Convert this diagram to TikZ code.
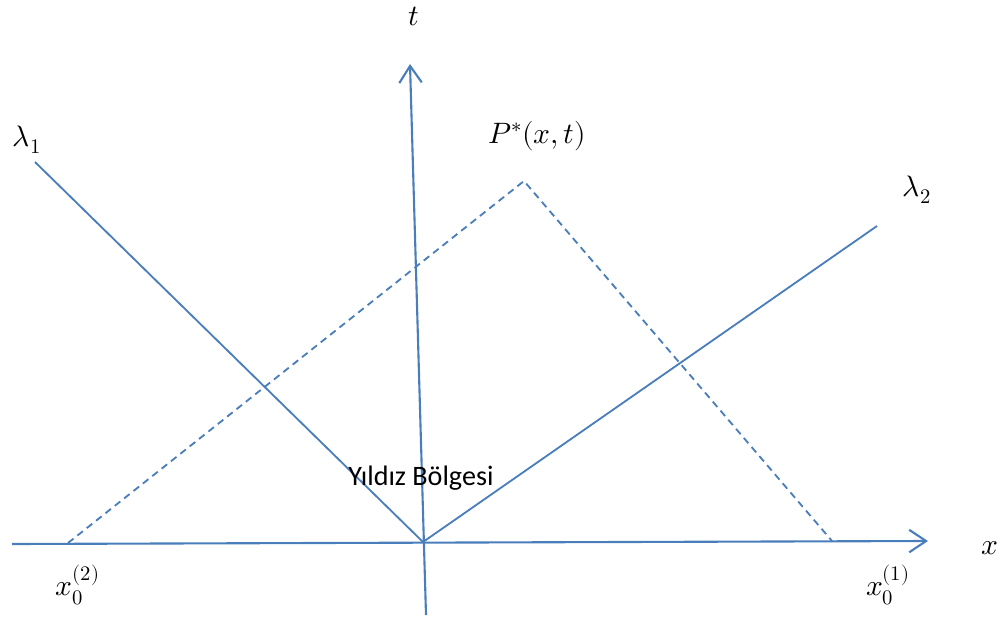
\documentclass[tikz,border=0pt]{standalone}
\usepackage{fontspec}
\usepackage{unicode-math}
\newfontfamily\carlito{Carlito}
\usetikzlibrary{arrows.meta}
\definecolor{lineblue}{RGB}{74,126,187}
\begin{document}
\begin{tikzpicture}[x=0.025cm,y=-0.025cm,
  axis/.style={draw=lineblue,line width=1.5pt,-{Straight Barb[length=12pt,width=16pt,line width=1.5pt]}},
  ray/.style={draw=lineblue,line width=1.3pt},
  dashline/.style={draw=lineblue,line width=1.3pt,dash pattern=on 5pt off 3.5pt},
  lbl/.style={inner sep=0pt,font=\fontsize{21}{25}\selectfont}]
\useasboundingbox (0,0) rectangle (1007,619);
\coordinate (O) at (423,542);
\coordinate (xl) at (12,544);
\coordinate (xr) at (928,541);
\coordinate (tb) at (426,615);
\coordinate (tt) at (410,64);
\coordinate (l1) at (35,162);
\coordinate (l2) at (877,226);
\coordinate (a2) at (68,543);
\coordinate (P) at (524,181);
\coordinate (a1) at (832,541);
\draw[axis] (xl) -- (xr);
\draw[axis] (tb) -- (tt);
\draw[ray] (l1) -- (O) -- (l2);
\draw[dashline] (a2) -- (P) -- (a1);
\node[lbl] (L1) at (27,140) {$\lambda_1$};
\node[lbl] (L2) at (917,190) {$\lambda_2$};
\node[lbl] (PL) at (537,136) {$P^*(x,t)$};
\node[lbl] (T) at (414,16) {$t$};
\node[lbl] (X) at (990,548) {$x$};
\node[lbl] (X2) at (78,585) {$x_0^{(2)}$};
\node[lbl] (X1) at (888,585) {$x_0^{(1)}$};
\node[inner sep=0pt,font=\carlito\fontsize{20}{24}\selectfont] (Y) at (421,478) {Yıldız Bölgesi};
\end{tikzpicture}
\end{document}
